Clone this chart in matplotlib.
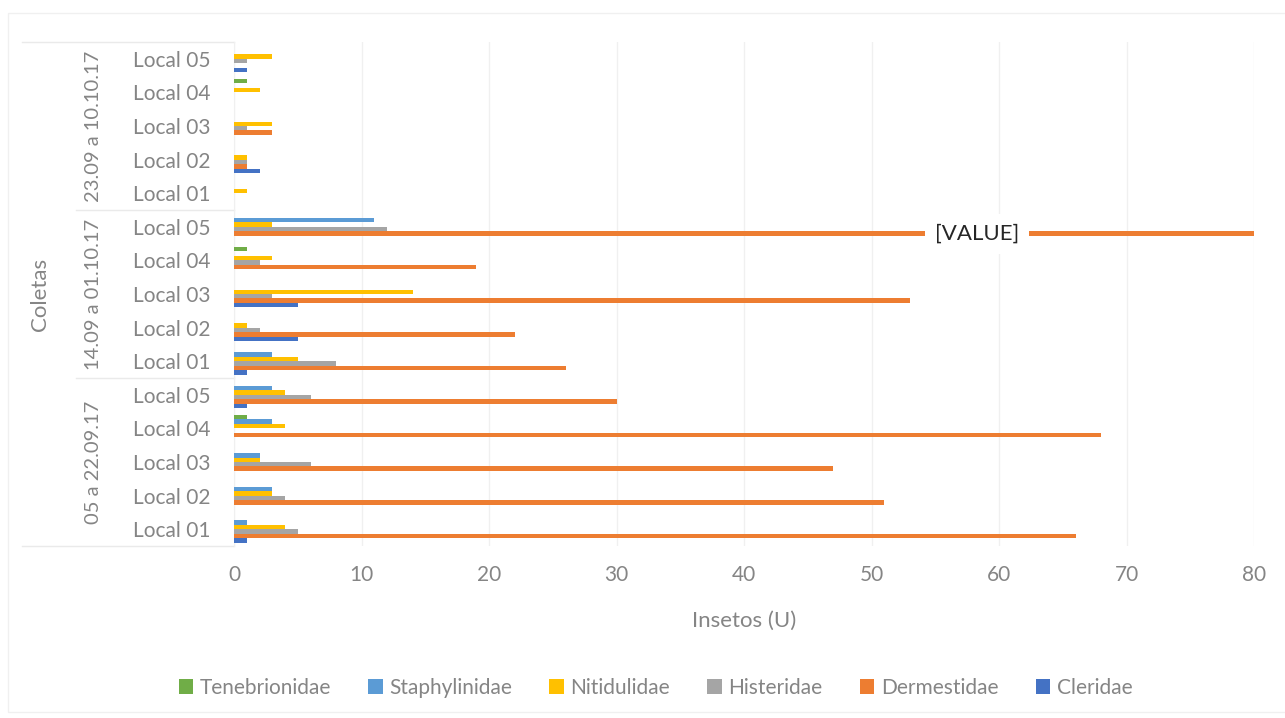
import numpy as np
import matplotlib as mpl
mpl.use('Agg')
import matplotlib.pyplot as plt
from matplotlib.patches import Rectangle
from matplotlib.lines import Line2D
import matplotlib.transforms as mtransforms

plt.rcParams['font.family'] = ['Lato', 'DejaVu Sans']

# categories, bottom to top (as drawn)
periods = ["05 a 22.09.17", "14.09 a 01.10.17", "23.09 a 10.10.17"]
locais = ["Local 01", "Local 02", "Local 03", "Local 04", "Local 05"]

# values per category, ordered Local 01..05 for each period in turn
cleridae = [1, 0, 0, 0, 1,
            1, 5, 5, 0, 0,
            0, 2, 0, 0, 1]
dermestidae = [66, 51, 47, 68, 30,
               26, 22, 53, 19, 95,
               0, 1, 3, 0, 0]
histeridae = [5, 4, 6, 0, 6,
              8, 2, 3, 2, 12,
              0, 1, 1, 0, 1]
nitidulidae = [4, 3, 2, 4, 4,
               5, 1, 14, 3, 3,
               1, 1, 3, 2, 3]
staphylinidae = [1, 3, 2, 3, 3,
                 3, 0, 0, 0, 11,
                 0, 0, 0, 0, 0]
tenebrionidae = [0, 0, 0, 1, 0,
                 0, 0, 0, 1, 0,
                 0, 0, 0, 1, 0]

series = [("Cleridae", cleridae, "#4472C4"),
          ("Dermestidae", dermestidae, "#ED7D31"),
          ("Histeridae", histeridae, "#A5A5A5"),
          ("Nitidulidae", nitidulidae, "#FFC000"),
          ("Staphylinidae", staphylinidae, "#5B9BD5"),
          ("Tenebrionidae", tenebrionidae, "#70AD47")]

grey = "#858585"
fs = 15

fig = plt.figure(figsize=(12.85, 7.18), dpi=100)
ax = fig.add_axes([234 / 1285, 1 - 546 / 718, (1254 - 234) / 1285, (546 - 42) / 718])

n_cat = len(periods) * len(locais)
y = np.arange(n_cat)
group_w = 0.8
h = group_w / len(series)
for i, (name, vals, color) in enumerate(series):
    ax.barh(y - group_w / 2 + h * (i + 0.5), vals, height=h, color=color,
            label=name, zorder=3)

ax.set_xlim(0, 80)
ax.set_ylim(-0.5, n_cat - 0.5)
ax.set_xticks(np.arange(0, 81, 10))
ax.set_yticks(y)
ax.set_yticklabels(locais * len(periods))
ax.tick_params(axis='both', length=0, colors=grey, labelsize=fs)
ax.tick_params(axis='y', pad=17)
ax.tick_params(axis='x', pad=14)
ax.grid(axis='x', color="#F0F0F0", lw=1, zorder=0)
for s in ["top", "right", "bottom"]:
    ax.spines[s].set_visible(False)
ax.spines["left"].set_color("#F0F0F0")

ax.set_xlabel("Insetos (U)", color=grey, fontsize=fs + 1, labelpad=18)

# data label on the clipped bar
top_idx = int(np.argmax(dermestidae))
ax.text(58.3, top_idx - group_w / 2 + h * 1.5, "[VALUE]", ha='center', va='center',
        fontsize=fs + 1, color="#262626", zorder=5,
        bbox=dict(boxstyle="square,pad=0.45", fc="white", ec="none"))

# multi-level category axis
trans = mtransforms.blended_transform_factory(ax.transAxes, ax.transData)
line_c = "#EAEAEA"
for g, p in enumerate(periods):
    ax.text(-0.138, g * len(locais) + (len(locais) - 1) / 2, p, rotation=90,
            ha='center', va='center', transform=trans, color=grey, fontsize=fs - 0.5)
for g in range(1, len(periods)):
    ax.add_line(Line2D([-0.155, 0], [g * len(locais) - 0.5] * 2, transform=trans,
                       color=line_c, lw=1, clip_on=False))
for yy in [-0.5, n_cat - 0.5]:
    ax.add_line(Line2D([-0.208, 0], [yy, yy], transform=trans,
                       color=line_c, lw=1, clip_on=False))
ax.text(-0.19, 0.5, "Coletas", rotation=90, ha='center', va='center',
        transform=ax.transAxes, color=grey, fontsize=fs + 1)

# legend, in Excel order
handles, labels = ax.get_legend_handles_labels()
fig.legend(handles[::-1], labels[::-1], loc='center', bbox_to_anchor=(0.51, 0.042),
           ncol=6, frameon=False, fontsize=fs, labelcolor=grey,
           handlelength=0.7, handleheight=0.7, handletextpad=0.3, columnspacing=1.8)

# chart border
fig.patches.append(Rectangle((8 / 1285, 6 / 718), 1280 / 1285, 699 / 718,
                             transform=fig.transFigure, fill=False,
                             ec="#F0F0F0", lw=1))

fig.savefig("out.png", dpi=100)
